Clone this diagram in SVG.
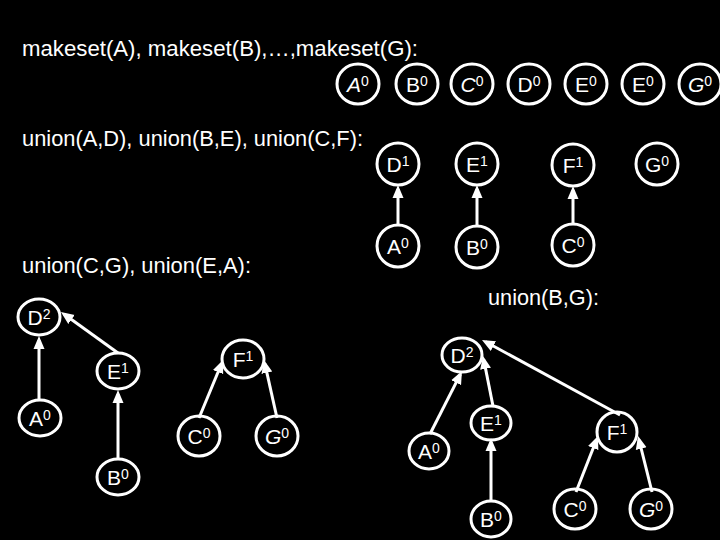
<svg xmlns="http://www.w3.org/2000/svg" width="720" height="540" viewBox="0 0 720 540">
<style>
.n{fill:none;stroke:#fff;stroke-width:3}
.t{fill:#fff;font-family:"Liberation Sans",Arial,sans-serif;font-size:21px;text-anchor:middle}
.s{font-size:14px}
.i{font-style:italic}
.h{fill:#fff;font-family:"Liberation Sans",Arial,sans-serif;font-size:22px}
.c{stroke:#fff;stroke-width:3;fill:none;marker-end:url(#ah)}
</style>
<defs>
<marker id="ah" markerWidth="14" markerHeight="12" refX="9" refY="6" orient="auto" markerUnits="userSpaceOnUse">
<path d="M0,0.5 L13,6 L0,11.5 z" fill="#fff"/>
</marker>
</defs>
<rect width="720" height="540" fill="#000"/>
<g id="headings">
<text class="h" x="22" y="56" textLength="396" lengthAdjust="spacingAndGlyphs">makeset(A), makeset(B),…,makeset(G):</text>
<text class="h" x="22" y="146" textLength="341" lengthAdjust="spacingAndGlyphs">union(A,D), union(B,E), union(C,F):</text>
<text class="h" x="22" y="273" textLength="229" lengthAdjust="spacingAndGlyphs">union(C,G), union(E,A):</text>
<text class="h" x="488" y="305" textLength="111" lengthAdjust="spacingAndGlyphs">union(B,G):</text>
</g>
<g id="connectors">
<line class="c" x1="398" y1="226" x2="398" y2="189"/>
<line class="c" x1="477" y1="227" x2="477" y2="189"/>
<line class="c" x1="573" y1="225" x2="573" y2="190"/>
<line class="c" x1="39" y1="400" x2="39" y2="340"/>
<line class="c" x1="118" y1="353" x2="64.2" y2="314.3"/>
<line class="c" x1="118" y1="459" x2="118" y2="394"/>
<line class="c" x1="199" y1="418" x2="221.5" y2="363.7"/>
<line class="c" x1="277" y1="418" x2="264.9" y2="363.9"/>
<line class="c" x1="430" y1="434" x2="460.2" y2="374.6"/>
<line class="c" x1="493" y1="406" x2="483.8" y2="359.9"/>
<line class="c" x1="620" y1="415" x2="485.5" y2="341.8"/>
<line class="c" x1="491" y1="502" x2="491" y2="442"/>
<line class="c" x1="576" y1="492" x2="596.5" y2="439.7"/>
<line class="c" x1="652" y1="492" x2="639" y2="439.9"/>
</g>
<g id="top-A"><ellipse class="n" cx="358" cy="84" rx="21" ry="20"/><text class="t" x="358" y="92"><tspan class="i">A</tspan><tspan class="s" dy="-6">0</tspan></text></g>
<g id="top-B"><ellipse class="n" cx="417" cy="84" rx="21" ry="20"/><text class="t" x="417" y="92">B<tspan class="s" dy="-6">0</tspan></text></g>
<g id="top-C"><ellipse class="n" cx="472" cy="84" rx="21" ry="20"/><text class="t" x="472" y="92"><tspan class="i">C</tspan><tspan class="s" dy="-6">0</tspan></text></g>
<g id="top-D"><ellipse class="n" cx="529" cy="84" rx="21" ry="20"/><text class="t" x="529" y="92">D<tspan class="s" dy="-6">0</tspan></text></g>
<g id="top-E"><ellipse class="n" cx="586" cy="84" rx="21" ry="20"/><text class="t" x="586" y="92">E<tspan class="s" dy="-6">0</tspan></text></g>
<g id="top-E2"><ellipse class="n" cx="643" cy="84" rx="21" ry="20"/><text class="t" x="643" y="92">E<tspan class="s" dy="-6">0</tspan></text></g>
<g id="top-G"><ellipse class="n" cx="700" cy="84" rx="21" ry="20"/><text class="t" x="700" y="92"><tspan class="i">G</tspan><tspan class="s" dy="-6">0</tspan></text></g>
<g id="r2-D"><ellipse class="n" cx="398" cy="164" rx="21" ry="21"/><text class="t" x="398" y="172">D<tspan class="s" dy="-6">1</tspan></text></g>
<g id="r2-E"><ellipse class="n" cx="477" cy="164" rx="21" ry="21"/><text class="t" x="477" y="172">E<tspan class="s" dy="-6">1</tspan></text></g>
<g id="r2-F"><ellipse class="n" cx="573" cy="165" rx="21" ry="21"/><text class="t" x="573" y="173">F<tspan class="s" dy="-6">1</tspan></text></g>
<g id="r2-G"><ellipse class="n" cx="657" cy="164" rx="21" ry="21"/><text class="t" x="657" y="172">G<tspan class="s" dy="-6">0</tspan></text></g>
<g id="r2-A"><ellipse class="n" cx="398" cy="246" rx="21" ry="21"/><text class="t" x="398" y="254">A<tspan class="s" dy="-6">0</tspan></text></g>
<g id="r2-B"><ellipse class="n" cx="477" cy="247" rx="21" ry="21"/><text class="t" x="477" y="255">B<tspan class="s" dy="-6">0</tspan></text></g>
<g id="r2-C"><ellipse class="n" cx="573" cy="245" rx="21" ry="21"/><text class="t" x="573" y="253">C<tspan class="s" dy="-6">0</tspan></text></g>
<g id="bl-D"><ellipse class="n" cx="39" cy="317" rx="21" ry="18"/><text class="t" x="39" y="325">D<tspan class="s" dy="-6">2</tspan></text></g>
<g id="bl-A"><ellipse class="n" cx="40" cy="418" rx="21" ry="18"/><text class="t" x="40" y="426">A<tspan class="s" dy="-6">0</tspan></text></g>
<g id="bl-E"><ellipse class="n" cx="118" cy="371" rx="21" ry="18"/><text class="t" x="118" y="379">E<tspan class="s" dy="-6">1</tspan></text></g>
<g id="bl-B"><ellipse class="n" cx="118" cy="477" rx="21" ry="18"/><text class="t" x="118" y="485">B<tspan class="s" dy="-6">0</tspan></text></g>
<g id="bl-F"><ellipse class="n" cx="243" cy="359" rx="21" ry="19"/><text class="t" x="243" y="367">F<tspan class="s" dy="-6">1</tspan></text></g>
<g id="bl-C"><ellipse class="n" cx="199" cy="436" rx="21" ry="20"/><text class="t" x="199" y="444">C<tspan class="s" dy="-6">0</tspan></text></g>
<g id="bl-G"><ellipse class="n" cx="277" cy="436" rx="21" ry="20"/><text class="t" x="277" y="444"><tspan class="i">G</tspan><tspan class="s" dy="-6">0</tspan></text></g>
<g id="br-D"><ellipse class="n" cx="462" cy="355" rx="20" ry="17"/><text class="t" x="462" y="363">D<tspan class="s" dy="-6">2</tspan></text></g>
<g id="br-E"><ellipse class="n" cx="491" cy="423" rx="20" ry="17"/><text class="t" x="491" y="431">E<tspan class="s" dy="-6">1</tspan></text></g>
<g id="br-A"><ellipse class="n" cx="429" cy="451" rx="20" ry="18"/><text class="t" x="429" y="459">A<tspan class="s" dy="-6">0</tspan></text></g>
<g id="br-F"><ellipse class="n" cx="617" cy="432" rx="20" ry="20"/><text class="t" x="617" y="440">F<tspan class="s" dy="-6">1</tspan></text></g>
<g id="br-B"><ellipse class="n" cx="491" cy="519" rx="20" ry="18"/><text class="t" x="491" y="527">B<tspan class="s" dy="-6">0</tspan></text></g>
<g id="br-C"><ellipse class="n" cx="575" cy="509" rx="21" ry="20"/><text class="t" x="575" y="517">C<tspan class="s" dy="-6">0</tspan></text></g>
<g id="br-G"><ellipse class="n" cx="651" cy="509" rx="21" ry="20"/><text class="t" x="651" y="517"><tspan class="i">G</tspan><tspan class="s" dy="-6">0</tspan></text></g>
</svg>
